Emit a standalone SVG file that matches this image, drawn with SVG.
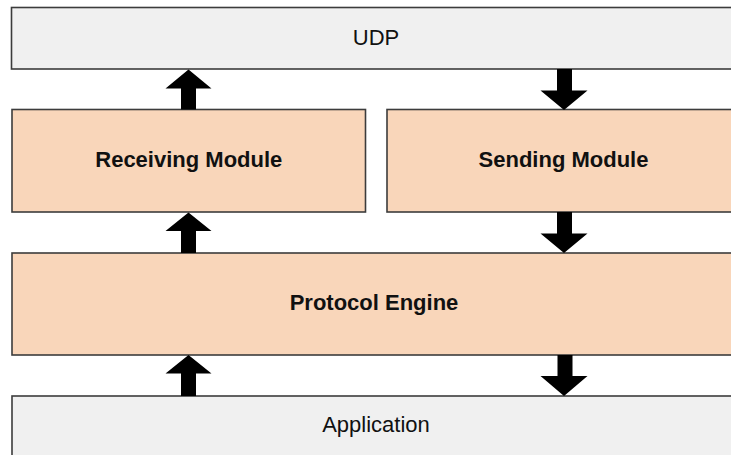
<svg xmlns="http://www.w3.org/2000/svg" width="731" height="455" viewBox="0 0 731 455">
<style>
.gray{fill:#f0f0f0;stroke:#3c3c3c;stroke-width:1.6}
.peach{fill:#f9d6ba;stroke:#3c3c3c;stroke-width:1.6}
.t{font-family:"Liberation Sans",Arial,sans-serif;font-size:22px;fill:#111;text-anchor:middle}
.b{font-weight:bold}
.arr{fill:#000}
</style>
<rect width="731" height="455" fill="#fff"/>
<g id="udp"><rect class="gray" x="11.5" y="7.5" width="730" height="61.5"/><text class="t" x="376" y="44.5">UDP</text></g>
<g id="receiving"><rect class="peach" x="12" y="109.5" width="353.5" height="102.5"/><text class="t b" x="188.8" y="167">Receiving Module</text></g>
<g id="sending"><rect class="peach" x="387" y="109.5" width="354" height="102.5"/><text class="t b" x="563.5" y="167">Sending Module</text></g>
<g id="protocol"><rect class="peach" x="12" y="253" width="729" height="102"/><text class="t b" x="374" y="309.5">Protocol Engine</text></g>
<g id="application"><rect class="gray" x="12" y="396" width="729" height="62"/><text class="t" x="376" y="432">Application</text></g>
<g id="connectors" class="arr">
<path d="M188.5,69.5 L211.5,88.5 L196,88.5 L196,109.5 L181,109.5 L181,88.5 L165.5,88.5 Z"/>
<path d="M564,110 L587.5,90.5 L572,90.5 L572,69 L557,69 L557,90.5 L540.5,90.5 Z"/>
<path d="M188.5,212.5 L211.5,231 L196,231 L196,253 L181,253 L181,231 L165.5,231 Z"/>
<path d="M564,253 L587.5,233.5 L572,233.5 L572,212 L557,212 L557,233.5 L540.5,233.5 Z"/>
<path d="M188.5,355 L211.5,373.5 L196,373.5 L196,396 L181,396 L181,373.5 L165.5,373.5 Z"/>
<path d="M564,396 L587.5,376 L572.5,376 L572.5,355 L557.5,355 L557.5,376 L540.5,376 Z"/>
</g>
</svg>
